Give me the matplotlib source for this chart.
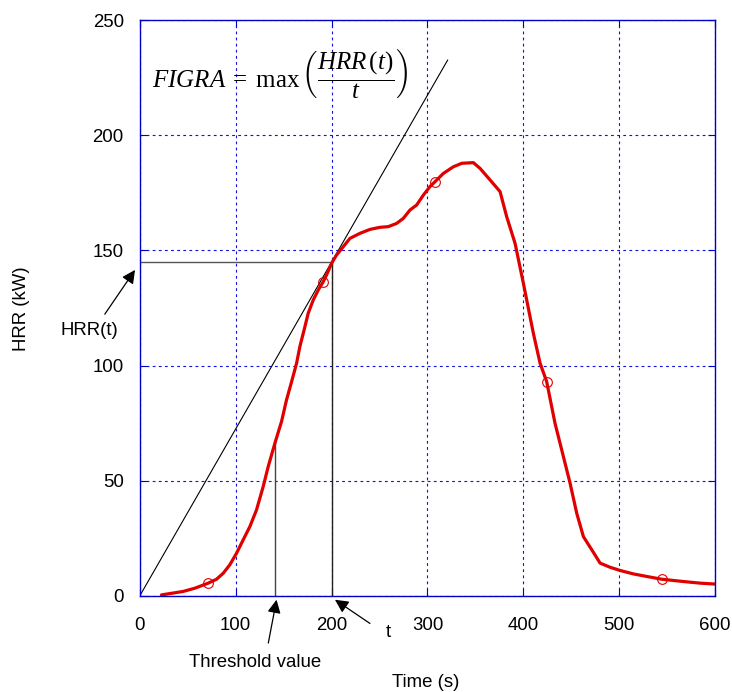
import matplotlib
matplotlib.use("Agg")
from matplotlib import pyplot as plt

# HRR curve
time_s = [22.6, 34.8, 45.2, 57.4, 71.3, 80, 87, 93.9, 100.9, 107.8, 114.8, 121.7,
          128.7, 133.9, 140.9, 147.8, 153, 158.3, 163.5, 166.9, 172.2, 175.6, 180.9,
          186.1, 191.3, 195.5, 200, 205.2, 212.2, 219.1, 229.6, 240, 250.4, 259.1,
          267.8, 274.8, 281.7, 288.7, 295.7, 302.6, 307.8, 316.5, 327, 335.7, 347.8,
          354.8, 365.2, 375.7, 382.6, 391.3, 400, 410.4, 417.4, 424.3, 433, 441.7,
          448.7, 455.6, 462.6, 471.3, 480, 490.4, 500.9, 514.8, 528.7, 544.3, 566.9,
          584.3, 600]
hrr_kw = [0.4, 1.2, 1.9, 3.3, 5.5, 7.2, 9.8, 13.5, 18.5, 24.3, 30.1, 37.3,
          47.5, 56.1, 66.3, 75.7, 85.1, 93, 101, 108.2, 116.9, 122.7, 128.5,
          132.8, 136.4, 140, 144.4, 148, 151.6, 155.2, 157.4, 159.1, 160, 160.3,
          161.7, 163.9, 167.5, 169.7, 174, 177.7, 179.8, 183.4, 186.3, 187.8, 188.1,
          185.6, 180.6, 175.5, 164.6, 153.1, 135.7, 114, 101, 93, 74.9, 60.5,
          48.9, 35.9, 25.7, 20, 14.2, 12.4, 11, 9.5, 8.4, 7.2, 6.2,
          5.5, 5.1]

# open circle markers on the curve
mark_t = [71.3, 191.3, 307.8, 424.3, 544.3]
mark_hrr = [5.5, 136.4, 179.8, 93, 7.2]

# construction lines
tangent_t = [0, 321]
tangent_hrr = [0, 232.6]
t_point = 200
hrr_at_t = 145
threshold_t = 141
threshold_hrr = 67

plt.rcParams['font.family'] = 'Liberation Sans'
plt.rcParams['mathtext.fontset'] = 'custom'
plt.rcParams['mathtext.rm'] = 'Liberation Serif'
plt.rcParams['mathtext.it'] = 'Liberation Serif:italic'

fs = 13.4

fig = plt.figure(figsize=(7.32, 6.92), dpi=100)
ax = fig.add_axes([0.191, 0.139, 0.786, 0.832])

ax.plot(tangent_t, tangent_hrr, color='black', linewidth=0.8)
ax.plot([0, t_point], [hrr_at_t, hrr_at_t], color='#555555', linewidth=1.0)
ax.plot([t_point, t_point], [0, hrr_at_t], color='#222222', linewidth=1.0)
ax.plot([threshold_t, threshold_t], [0, threshold_hrr], color='#444444', linewidth=1.0)

ax.plot(time_s, hrr_kw, color='#e00000', linewidth=2.3,
        solid_joinstyle='round', solid_capstyle='round')
ax.plot(mark_t, mark_hrr, linestyle='none', marker='o', markersize=7,
        markerfacecolor='none', markeredgecolor='#e00000', markeredgewidth=0.8)

ax.set_xlim(0, 600)
ax.set_ylim(0, 250)
ax.set_xticks([0, 100, 200, 300, 400, 500, 600])
ax.set_yticks([0, 50, 100, 150, 200, 250])
ax.grid(True, color='#1010e0', linestyle=(0, (2.5, 3)), linewidth=0.8)
ax.set_axisbelow(True)
for s in ax.spines.values():
    s.set_color('#0000cc')
    s.set_linewidth(1.0)
ax.tick_params(direction='in', length=5, color='#0000cc', labelsize=fs,
               top=True, right=True)
ax.tick_params(axis='x', pad=15)
ax.tick_params(axis='y', pad=11.5)

ax.set_xlabel('Time (s)', fontsize=fs)
ax.xaxis.set_label_coords(0.497, -0.151)
ax.xaxis.label.set_va('center')
ax.set_ylabel('HRR (kW)', fontsize=fs)
ax.yaxis.set_label_coords(-0.205, 0.498)
ax.yaxis.label.set_va('center')

ax.text(13, 226.8, r'$FIGRA\;=\;\max\,\left(\dfrac{HRR\,(t)}{t}\right)$', fontsize=18,
        va='center', ha='left')

arrow = dict(arrowstyle='-|>', color='black', linewidth=0.9, mutation_scale=20,
             shrinkA=0, shrinkB=0)
ax.annotate('', xy=(-5, 141.5), xytext=(-36.5, 122.3), arrowprops=arrow,
            annotation_clip=False)
ax.text(-53, 115, 'HRR(t)', fontsize=fs, ha='center', va='center', clip_on=False)

ax.annotate('', xy=(142.6, -1.7), xytext=(134, -20.5), arrowprops=arrow,
            annotation_clip=False)
ax.text(120, -29, 'Threshold value', fontsize=fs, ha='center', va='center', clip_on=False)

ax.annotate('', xy=(203.5, -1.7), xytext=(240, -12), arrowprops=arrow,
            annotation_clip=False)
ax.text(259, -16, 't', fontsize=fs, ha='center', va='center', clip_on=False)

plt.savefig('out.png', dpi=100)
